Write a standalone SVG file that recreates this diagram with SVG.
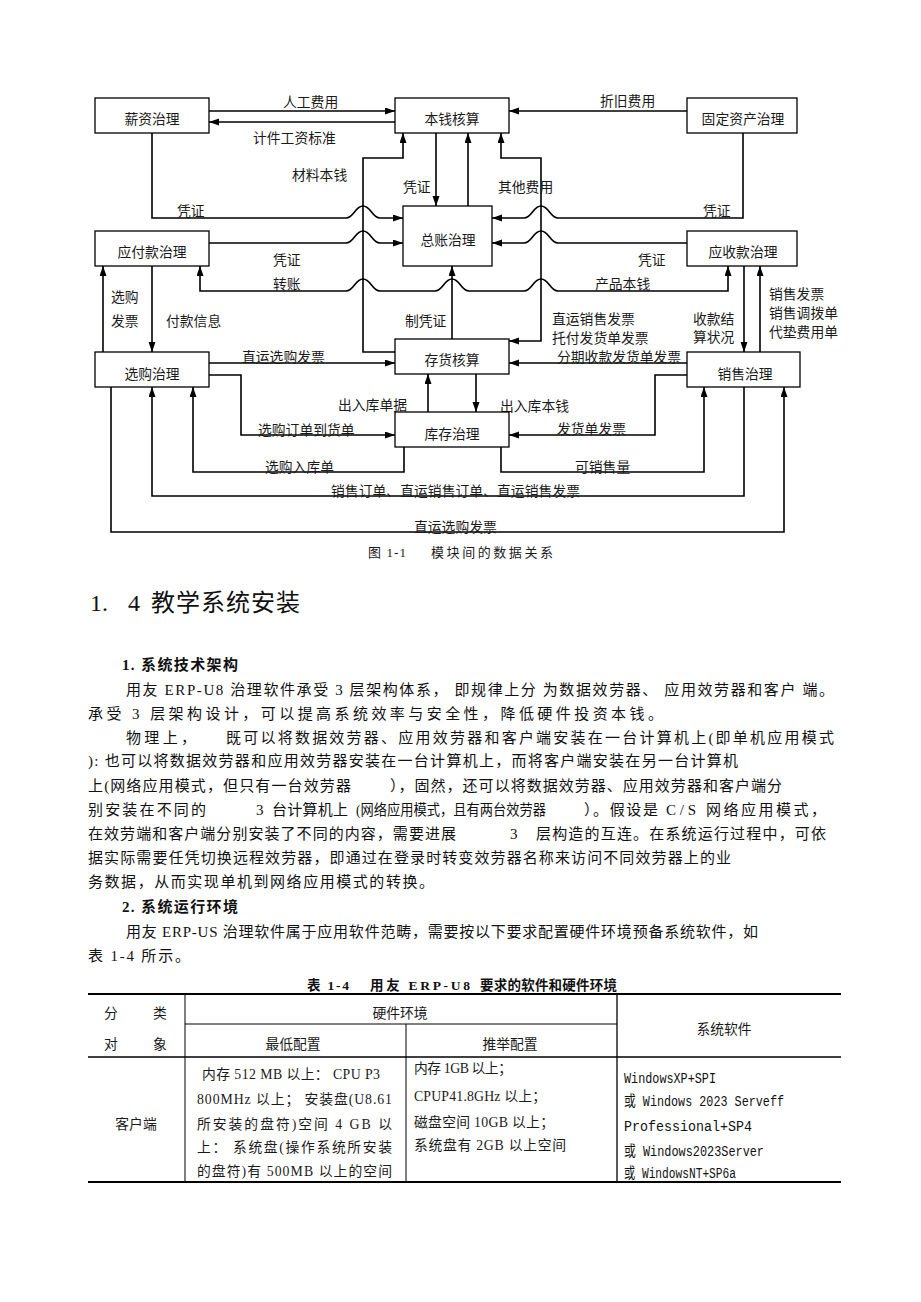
<svg xmlns="http://www.w3.org/2000/svg" width="921" height="1302" viewBox="0 0 921 1302">
<style>
.bg{fill:#fff}
.ln{fill:none;stroke:#000;stroke-width:1.6}
.ar{marker-end:url(#ah)}
.ar2{marker-start:url(#ah);marker-end:url(#ah)}
.box{fill:#fff;stroke:#000;stroke-width:1.3}
.t{font-family:"Liberation Serif","Noto Sans CJK SC",serif;font-size:13.8px;fill:#1a1a1a}
.nl{font-family:"Liberation Serif","Noto Sans CJK SC",serif;font-size:13.8px;fill:#1a1a1a;text-anchor:middle;dominant-baseline:central}
.body{font-family:"Liberation Serif","Noto Sans CJK SC",serif;font-size:15px;fill:#111}
.h1{font-family:"Liberation Serif","Noto Sans CJK SC",serif;font-size:24px;fill:#111}
.sub{font-family:"Liberation Serif","Noto Sans CJK SC",serif;font-size:15px;font-weight:bold;fill:#111}
.cap{font-family:"Liberation Serif","Noto Sans CJK SC",serif;font-size:13px;fill:#1a1a1a}
.tt{font-family:"Liberation Serif","Noto Sans CJK SC",serif;font-size:13.5px;font-weight:bold;fill:#111}
.mono{font-family:"Liberation Mono","Noto Sans CJK SC",monospace;font-size:14.5px;fill:#111}
.tl{stroke:#000;fill:none}
</style>
<defs>
<marker id="ah" markerUnits="userSpaceOnUse" markerWidth="11" markerHeight="8" refX="10" refY="3.5" orient="auto-start-reverse">
<path d="M0,0 L10,3.5 L0,7 z" fill="#000"/>
</marker>
</defs>
<rect class="bg" x="0" y="0" width="921" height="1302"/>

<g id="connectors">
<path class="ln ar" d="M209,111 H395"/>
<path class="ln ar" d="M395,122 H209"/>
<path class="ln ar" d="M687,111 H509"/>
<path class="ln ar" d="M152,133 V218 H346 C354,218 355,206 363,206 C371,206 372,218 380,218 H403"/>
<path class="ln ar" d="M209,243 H346 C354,243 355,231 363,231 C371,231 372,243 380,243 H403"/>
<path class="ln ar" d="M395,352 H363 V158 H403 V133"/>
<path class="ln ar" d="M436,133 V206"/>
<path class="ln ar" d="M468,206 V133"/>
<path class="ln ar2" d="M501,133 V158 H541 V341 H509"/>
<path class="ln ar" d="M743,133 V218 H558 C550,218 549,206 541,206 C533,206 532,218 524,218 H492"/>
<path class="ln ar" d="M687,243 H558 C550,243 549,231 541,231 C533,231 532,243 524,243 H492"/>
<path class="ln ar2" d="M200,266 V291 H346 C354,291 355,279 363,279 C371,279 372,291 380,291 H435 C443,291 444,279 452,279 C460,279 461,291 469,291 H524 C532,291 533,279 541,279 C549,279 550,291 558,291 H728 V266"/>
<path class="ln ar" d="M452,339 V266"/>
<path class="ln ar" d="M103,352 V266"/>
<path class="ln ar" d="M152,266 V352"/>
<path class="ln ar" d="M744,266 V352"/>
<path class="ln ar" d="M760,352 V266"/>
<path class="ln ar" d="M209,363 H395"/>
<path class="ln ar" d="M687,363 H509"/>
<path class="ln ar" d="M428,412 V374"/>
<path class="ln ar" d="M476,374 V412"/>
<path class="ln ar" d="M209,375 H241 V435 H395"/>
<path class="ln ar" d="M687,375 H655 V435 H509"/>
<path class="ln ar" d="M404,447 V472 H193 V387"/>
<path class="ln ar" d="M501,447 V472 H704 V387"/>
<path class="ln ar" d="M744,387 V496 H152 V387"/>
<path class="ln ar" d="M111,387 V532 H784 V387"/>
</g>

<g id="connector-labels">
<text class="t" x="283" y="107">人工费用</text>
<text class="t" x="253" y="143">计件工资标准</text>
<text class="t" x="292" y="180">材料本钱</text>
<text class="t" x="177" y="216">凭证</text>
<text class="t" x="403" y="192">凭证</text>
<text class="t" x="273" y="265">凭证</text>
<text class="t" x="600" y="106">折旧费用</text>
<text class="t" x="498" y="192">其他费用</text>
<text class="t" x="703" y="216">凭证</text>
<text class="t" x="638" y="265">凭证</text>
<text class="t" x="273" y="289">转账</text>
<text class="t" x="595" y="289">产品本钱</text>
<text class="t" x="111" y="302">选购</text>
<text class="t" x="111" y="326">发票</text>
<text class="t" x="166" y="326">付款信息</text>
<text class="t" x="405" y="326">制凭证</text>
<text class="t" x="242" y="362">直运选购发票</text>
<text class="t" x="258" y="435">选购订单到货单</text>
<text class="t" x="338" y="410">出入库单据</text>
<text class="t" x="552" y="324">直运销售发票</text>
<text class="t" x="552" y="343">托付发货单发票</text>
<text class="t" x="693" y="324">收款结</text>
<text class="t" x="693" y="342">算状况</text>
<text class="t" x="769" y="299">销售发票</text>
<text class="t" x="769" y="318">销售调拨单</text>
<text class="t" x="769" y="337">代垫费用单</text>
<text class="t" x="557" y="362">分期收款发货单发票</text>
<text class="t" x="500" y="411">出入库本钱</text>
<text class="t" x="557" y="434">发货单发票</text>
<text class="t" x="265" y="472">选购入库单</text>
<text class="t" x="575" y="472">可销售量</text>
<text class="t" x="331" y="496" textLength="249">销售订单、直运销售订单、直运销售发票</text>
<text class="t" x="414" y="532">直运选购发票</text>
</g>

<g id="n-xinzi"><rect class="box" x="95" y="98" width="114" height="35"/><text class="nl" x="152" y="119">薪资治理</text></g>
<g id="n-benqian"><rect class="box" x="395" y="98" width="114" height="35"/><text class="nl" x="452" y="119">本钱核算</text></g>
<g id="n-guding"><rect class="box" x="687" y="98" width="110" height="35"/><text class="nl" x="743" y="119">固定资产治理</text></g>
<g id="n-zongzhang"><rect class="box" x="403" y="206" width="89" height="60"/><text class="nl" x="448" y="240">总账治理</text></g>
<g id="n-yingfu"><rect class="box" x="95" y="231" width="114" height="35"/><text class="nl" x="152" y="252">应付款治理</text></g>
<g id="n-yingshou"><rect class="box" x="687" y="231" width="110" height="35"/><text class="nl" x="743" y="252">应收款治理</text></g>
<g id="n-xuangou"><rect class="box" x="95" y="352" width="114" height="35"/><text class="nl" x="152" y="374">选购治理</text></g>
<g id="n-cunhuo"><rect class="box" x="395" y="339" width="114" height="35"/><text class="nl" x="452" y="360">存货核算</text></g>
<g id="n-kucun"><rect class="box" x="395" y="412" width="114" height="35"/><text class="nl" x="452" y="434">库存治理</text></g>
<g id="n-xiaoshou"><rect class="box" x="687" y="352" width="113" height="35"/><text class="nl" x="745" y="374">销售治理</text></g>

<g id="caption">
<text class="cap" x="368" y="557" textLength="38">图 1-1</text>
<text class="cap" x="431" y="557" textLength="122">模块间的数据关系</text>
</g>

<g id="body-text">
<text class="h1" x="90" y="611">1.</text>
<text class="h1" x="128" y="611">4</text>
<text class="h1" x="151" y="611" textLength="149">教学系统安装</text>

<text class="sub" x="122" y="670" textLength="116">1. 系统技术架构</text>
<text class="body" x="126" y="695" textLength="708">用友 ERP-U8 治理软件承受  3 层架构体系， 即规律上分 为数据效劳器、 应用效劳器和客户 端。</text>
<text class="body" x="88" y="719" textLength="575">承受  3 层架构设计，可以提高系统效率与安全性，降低硬件投资本钱。</text>
<text class="body" x="126" y="743" textLength="70">物理上，</text>
<text class="body" x="226" y="743" textLength="608">既可以将数据效劳器、应用效劳器和客户端安装在一台计算机上(即单机应用模式</text>
<text class="body" x="88" y="766" textLength="650">): 也可以将数据效劳器和应用效劳器安装在一台计算机上，而将客户端安装在另一台计算机</text>
<text class="body" x="88" y="791" textLength="263">上(网络应用模式，但只有一台效劳器</text>
<text class="body" x="390" y="791" textLength="392">），固然，还可以将数据效劳器、应用效劳器和客户端分</text>
<text class="body" x="88" y="815" textLength="118">别安装在不同的</text>
<text class="body" x="256" y="815">3</text>
<text class="body" x="272" y="815" textLength="76">台计算机上</text>
<text class="body" x="356" y="815" textLength="190" lengthAdjust="spacingAndGlyphs">(网络应用模式，且有两台效劳器</text>
<text class="body" x="584" y="815" textLength="74">）。假设是</text>
<text class="body" x="666" y="815" textLength="30">C/S</text>
<text class="body" x="706" y="815" textLength="120">网络应用模式，</text>
<text class="body" x="88" y="839" textLength="368">在效劳端和客户端分别安装了不同的内容，需要进展</text>
<text class="body" x="510" y="839">3</text>
<text class="body" x="536" y="839" textLength="290">层构造的互连。在系统运行过程中，可依</text>
<text class="body" x="88" y="863" textLength="643">据实际需要任凭切换远程效劳器，即通过在登录时转变效劳器名称来访问不同效劳器上的业</text>
<text class="body" x="88" y="887" textLength="346">务数据，从而实现单机到网络应用模式的转换。</text>
<text class="sub" x="122" y="912" textLength="116">2. 系统运行环境</text>
<text class="body" x="126" y="937" textLength="632">用友  ERP-US 治理软件属于应用软件范畴，需要按以下要求配置硬件环境预备系统软件，如</text>
<text class="body" x="88" y="961" textLength="102">表 1-4 所示。</text>
</g>

<g id="table">
<text class="tt" x="307" y="990" textLength="42">表 1-4</text>
<text class="tt" x="370" y="990" textLength="100">用友 ERP-U8</text>
<text class="tt" x="480" y="990" textLength="137">要求的软件和硬件环境</text>
<line class="tl" x1="88" y1="994" x2="841" y2="994" stroke-width="2"/>
<line class="tl" x1="185" y1="1024" x2="617" y2="1024" stroke-width="1"/>
<line class="tl" x1="88" y1="1057" x2="841" y2="1057" stroke-width="1.3"/>
<line class="tl" x1="88" y1="1182" x2="841" y2="1182" stroke-width="2"/>
<line class="tl" x1="185" y1="994" x2="185" y2="1182" stroke-width="1"/>
<line class="tl" x1="406" y1="1024" x2="406" y2="1182" stroke-width="1"/>
<line class="tl" x1="617" y1="994" x2="617" y2="1182" stroke-width="1.3"/>

<text class="t" x="104" y="1018">分</text>
<text class="t" x="153" y="1018">类</text>
<text class="t" x="104" y="1049">对</text>
<text class="t" x="153" y="1049">象</text>
<text class="t" x="400" y="1018" text-anchor="middle">硬件环境</text>
<text class="t" x="293" y="1049" text-anchor="middle">最低配置</text>
<text class="t" x="510" y="1049" text-anchor="middle">推举配置</text>
<text class="t" x="724" y="1034" text-anchor="middle">系统软件</text>
<text class="t" x="136" y="1129" text-anchor="middle">客户端</text>

<text class="t" x="202" y="1079" textLength="178">内存 512 MB 以上：  CPU P3</text>
<text class="t" x="197" y="1104" textLength="195">800MHz 以上；  安装盘(U8.61</text>
<text class="t" x="197" y="1129" textLength="195">所安装的盘符)空间  4 GB 以</text>
<text class="t" x="197" y="1152" textLength="195">上：  系统盘(操作系统所安装</text>
<text class="t" x="197" y="1176" textLength="195">的盘符)有  500MB 以上的空间</text>

<text class="t" x="414" y="1073" textLength="98">内存 1GB 以上；</text>
<text class="t" x="414" y="1101" textLength="132">CPUP41.8GHz  以上；</text>
<text class="t" x="414" y="1127" textLength="140">磁盘空间  10GB 以上；</text>
<text class="t" x="414" y="1150" textLength="152">系统盘有  2GB 以上空间</text>

<text class="mono" x="624" y="1083" textLength="92" lengthAdjust="spacingAndGlyphs">WindowsXP+SPI</text>
<text class="mono" x="624" y="1106" textLength="160" lengthAdjust="spacingAndGlyphs">或 Windows 2023 Serveff</text>
<text class="mono" x="624" y="1131" textLength="128" lengthAdjust="spacingAndGlyphs">Professional+SP4</text>
<text class="mono" x="624" y="1156" textLength="140" lengthAdjust="spacingAndGlyphs">或 Windows2023Server</text>
<text class="mono" x="624" y="1178" textLength="112" lengthAdjust="spacingAndGlyphs">或 WindowsNT+SP6a</text>
</g>
</svg>
